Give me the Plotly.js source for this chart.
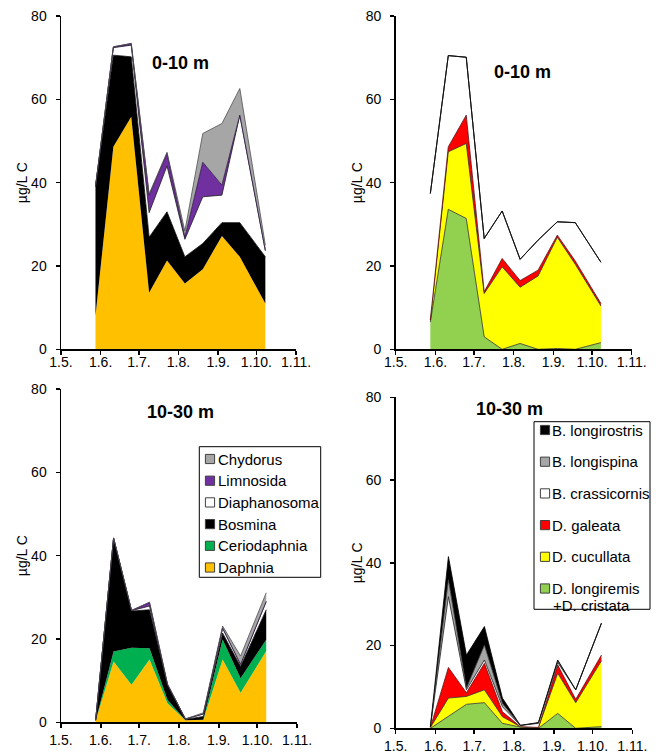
<!DOCTYPE html>
<html>
<head>
<meta charset="utf-8">
<script src="https://cdn.plot.ly/plotly-3.0.1.min.js"></script>
<style>html,body{margin:0;padding:0;background:#fff}#chart{width:656px;height:753px}</style>
</head>
<body>
<div id="chart"></div>
<script>
// ---------- DATA ----------
const sampleDates = ['2010-05-28','2010-06-11','2010-06-25','2010-07-09','2010-07-23','2010-08-06','2010-08-20','2010-09-04','2010-09-18','2010-10-08'];
const tickDates = ['2010-05-01','2010-06-01','2010-07-01','2010-08-01','2010-09-01','2010-10-01','2010-11-01'];
const tickLabels = ['1.5.','1.6.','1.7.','1.8.','1.9.','1.10.','1.11.'];
const yTicks = [0, 20, 40, 60, 80];
const yTitle = 'µg/L C';
const depthLabels = ['0-10 m', '0-10 m', '10-30 m', '10-30 m'];

// genera (stack order bottom -> top)
const genusNames = ['Daphnia', 'Ceriodaphnia', 'Bosmina', 'Diaphanosoma', 'Limnosida', 'Chydorus'];
const genusColors = ['#FFC000', '#00B050', '#000000', '#FFFFFF', '#7030A0', '#A6A6A6'];
const genusLineColors = ['#FFC000', '#00A048', '#000000', '#202020', '#2a1040', '#505050'];

// species (stack order bottom -> top)
const speciesNames = ['D. longiremis<br>+D. cristata', 'D. cucullata', 'D. galeata', 'B. crassicornis', 'B. longispina', 'B. longirostris'];
const speciesColors = ['#92D050', '#FFFF00', '#FF0000', '#FFFFFF', '#A6A6A6', '#000000'];
const speciesLineColors = ['#303030', '#303030', '#5a0000', '#202020', '#404040', '#000000'];

// 0-10 m, genera
const daphnia_0_10      = [8.0, 48.6, 55.8, 13.6, 21.3, 15.8, 19.2, 27.2, 22.2, 11.0];
const ceriodaphnia_0_10 = [0.0, 0.0, 0.0, 0.0, 0.0, 0.0, 0.0, 0.0, 0.0, 0.0];
const bosmina_0_10      = [31.0, 22.0, 14.4, 13.3, 11.7, 6.4, 6.2, 3.2, 8.2, 11.2];
const diaphanosoma_0_10 = [0.0, 1.8, 2.8, 5.9, 11.0, 4.2, 11.2, 6.6, 25.8, 1.5];
const limnosida_0_10    = [0.0, 0.2, 0.4, 4.2, 3.0, 0.5, 8.3, 2.4, 0.0, 0.0];
const chydorus_0_10     = [0.0, 0.0, 0.0, 0.3, 0.3, 1.5, 6.9, 14.8, 6.4, 1.3];

// 0-10 m, species
const dLongiremis_0_10   = [6.5, 33.6, 31.4, 3.0, 0.0, 1.4, 0.0, 0.2, 0.0, 1.6];
const dCucullata_0_10    = [0.5, 13.8, 18.0, 10.4, 19.8, 13.5, 17.6, 26.7, 20.4, 8.8];
const dGaleata_0_10      = [0.0, 1.2, 6.8, 0.4, 2.0, 1.6, 1.4, 0.5, 0.8, 0.6];
const bCrassicornis_0_10 = [30.4, 21.9, 13.9, 12.8, 11.4, 5.1, 7.2, 3.2, 9.2, 9.9];
const bLongispina_0_10   = [0.0, 0.0, 0.0, 0.0, 0.0, 0.0, 0.0, 0.0, 0.0, 0.0];
const bLongirostris_0_10 = [0.0, 0.0, 0.0, 0.0, 0.0, 0.0, 0.0, 0.0, 0.0, 0.0];

// 10-30 m, genera
const daphnia_10_30      = [0.3, 14.6, 9.0, 15.1, 4.6, 0.5, 0.6, 15.1, 7.1, 17.1];
const ceriodaphnia_10_30 = [0.0, 2.4, 8.9, 2.7, 0.8, 0.0, 0.0, 4.8, 3.5, 2.7];
const bosmina_10_30      = [0.2, 27.2, 8.8, 9.2, 3.6, 0.2, 0.8, 1.5, 2.8, 7.2];
const diaphanosoma_10_30 = [0.0, 0.0, 0.1, 0.9, 0.1, 0.1, 0.6, 1.2, 0.5, 2.0];
const limnosida_10_30    = [0.0, 0.0, 0.0, 0.9, 0.0, 0.0, 0.0, 0.0, 0.0, 0.0];
const chydorus_10_30     = [0.0, 0.1, 0.1, 0.0, 0.1, 0.0, 0.3, 0.5, 2.0, 2.1];

// 10-30 m, species
const dLongiremis_10_30   = [0.0, 2.8, 5.8, 6.2, 1.2, 0.3, 0.0, 3.6, 0.0, 0.4];
const dCucullata_10_30    = [0.2, 4.5, 1.9, 3.1, 1.6, 0.1, 0.2, 9.7, 6.2, 15.9];
const dGaleata_10_30      = [0.0, 7.4, 0.9, 6.4, 1.2, 0.0, 0.0, 2.0, 0.8, 1.4];
const bCrassicornis_10_30 = [0.2, 17.1, 0.7, 0.8, 1.2, 0.3, 1.0, 0.6, 2.3, 7.7];
const bLongispina_10_30   = [0.0, 4.1, 0.4, 3.6, 0.8, 0.0, 0.1, 0.4, 0.0, 0.0];
const bLongirostris_10_30 = [0.0, 5.6, 8.0, 4.5, 1.3, 0.0, 0.1, 0.2, 0.0, 0.0];

// ---------- LAYOUT HELPERS ----------
const W = 656, H = 753;
const FONT = 'Arial, "Liberation Sans", sans-serif';
const px = v => v / W;
const py = v => 1 - v / H;

const panels = [
  {ax: '', xd: [61, 296],      yd: [16, 349.3],    series: [daphnia_0_10, ceriodaphnia_0_10, bosmina_0_10, diaphanosoma_0_10, limnosida_0_10, chydorus_0_10], kind: 'genus', tlx: 180, tly: 62.7, xso: -5},
  {ax: '2', xd: [395.7, 631.7], yd: [16, 349.3],   series: [dLongiremis_0_10, dCucullata_0_10, dGaleata_0_10, bCrassicornis_0_10, bLongispina_0_10, bLongirostris_0_10], kind: 'species', tlx: 522.3, tly: 71.7, xso: -5},
  {ax: '3', xd: [61, 297],      yd: [389, 722.3],  series: [daphnia_10_30, ceriodaphnia_10_30, bosmina_10_30, diaphanosoma_10_30, limnosida_10_30, chydorus_10_30], kind: 'genus', tlx: 180, tly: 411.7, xso: 0},
  {ax: '4', xd: [395.7, 632.3], yd: [397.3, 728.3], series: [dLongiremis_10_30, dCucullata_10_30, dGaleata_10_30, bCrassicornis_10_30, bLongispina_10_30, bLongirostris_10_30], kind: 'species', tlx: 509, tly: 409.3, xso: 0},
];

const traces = [];
const layout = {
  width: W, height: H,
  margin: {l: 0, r: 0, t: 0, b: 0},
  paper_bgcolor: '#fff', plot_bgcolor: 'rgba(0,0,0,0)',
  font: {family: FONT, color: '#000', size: 14},
  showlegend: false,
  annotations: [],
  shapes: []
};

panels.forEach((p, pi) => {
  const names = p.kind === 'genus' ? genusNames : speciesNames;
  const colors = p.kind === 'genus' ? genusColors : speciesColors;
  const lcols = p.kind === 'genus' ? genusLineColors : speciesLineColors;
  p.series.forEach((vals, i) => {
    const noEdge = p.kind === 'genus' && (i === 0 || i === 1);
    traces.push({
      type: 'scatter', mode: 'lines',
      x: sampleDates, y: vals,
      xaxis: 'x' + p.ax, yaxis: 'y' + p.ax,
      stackgroup: 'g' + pi,
      name: names[i].replace('<br>', ' '),
      fillcolor: colors[i],
      line: {color: lcols[i], width: noEdge ? 0 : 0.8, shape: 'linear'},
      hoverinfo: 'skip', showlegend: false
    });
  });
  layout['xaxis' + p.ax] = {
    domain: [px(p.xd[0]), px(p.xd[1])], anchor: 'y' + p.ax,
    type: 'date', range: [tickDates[0], tickDates[tickDates.length - 1]],
    tickmode: 'array', tickvals: tickDates, ticktext: tickLabels,
    showline: true, linecolor: '#000', linewidth: 1.5,
    ticks: 'outside', ticklen: 4, tickwidth: 1.5, tickcolor: '#000',
    ticklabelstandoff: p.xso,
    showgrid: false, zeroline: false, fixedrange: true,
    tickfont: {family: FONT, size: 14, color: '#000'}
  };
  layout['yaxis' + p.ax] = {
    domain: [py(p.yd[1]), py(p.yd[0])], anchor: 'x' + p.ax,
    range: [0, 80], tickmode: 'array', tickvals: yTicks,
    showline: true, linecolor: '#000', linewidth: 1.5,
    ticks: 'outside', ticklen: 4, tickwidth: 1.5, tickcolor: '#000',
    ticklabelstandoff: 6,
    showgrid: false, zeroline: false, fixedrange: true,
    tickfont: {family: FONT, size: 14, color: '#000'},
    title: {text: yTitle, font: {family: FONT, size: 14, color: '#000'}, standoff: 0}
  };
  layout.annotations.push({
    xref: 'paper', yref: 'paper', x: px(p.tlx), y: py(p.tly),
    xanchor: 'center', yanchor: 'middle', showarrow: false,
    text: depthLabels[pi],
    font: {family: FONT, size: 18, color: '#000', weight: 'bold'}
  });
});

// ---------- LEGENDS (boxes listing series top -> bottom) ----------
function addLegend(names, colors, box, sqX, txtX, y0, step, lineStep) {
  layout.shapes.push({type: 'rect', xref: 'paper', yref: 'paper', layer: 'above',
    x0: px(box[0]), x1: px(box[1]), y0: py(box[3]), y1: py(box[2]),
    line: {color: '#000', width: 1}, fillcolor: '#fff'});
  const order = names.map((n, i) => i).reverse();
  order.forEach((idx, k) => {
    const cy = y0 + k * step;
    layout.shapes.push({type: 'rect', xref: 'paper', yref: 'paper', layer: 'above',
      x0: px(sqX - 4.6), x1: px(sqX + 4.6), y0: py(cy + 4.6), y1: py(cy - 4.6),
      line: {color: '#404040', width: 1}, fillcolor: colors[idx]});
    names[idx].split('<br>').forEach((ln, j) => {
      layout.annotations.push({xref: 'paper', yref: 'paper', showarrow: false,
        x: px(txtX + (j > 0 ? 1 : 0)), y: py(cy + j * lineStep), xanchor: 'left', yanchor: 'middle', align: 'left',
        text: ln, font: {family: FONT, size: 15, color: '#000'}});
    });
  });
}
addLegend(genusNames, genusColors, [199.3, 320.7, 446.7, 577.3], 210, 215.5, 459, 21.7, 16.7);
addLegend(speciesNames, speciesColors, [534, 650, 421.7, 609.3], 545, 549.5, 430, 31.7, 16.7);

Plotly.newPlot('chart', traces, layout, {staticPlot: true, displayModeBar: false});
</script>
</body>
</html>
